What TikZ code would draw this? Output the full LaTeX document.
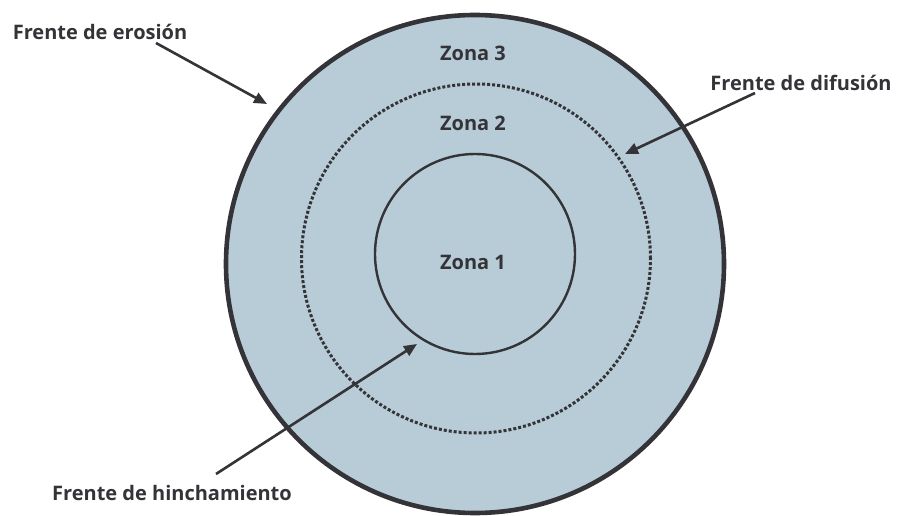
\documentclass[tikz,border=0pt]{standalone}
\usepackage{fontspec}
\setmainfont{Open Sans}
\usetikzlibrary{arrows.meta}
\definecolor{zonefill}{HTML}{B8CCD7}
\definecolor{ink}{HTML}{333338}
\begin{document}
\begin{tikzpicture}[x=1pt,y=-1pt,
  every node/.style={font=\bfseries\fontsize{20}{24}\selectfont, text=ink},
  front/.style={circle, draw=ink, inner sep=0pt},
  zonelabel/.style={inner sep=0pt},
  pointer/.style={draw=ink, line width=2.6pt, -{Triangle[length=13pt,width=11pt]}}]
  \useasboundingbox (0,0) rectangle (898,516);
  % erosion front (outer boundary) with its fill
  \node[front, fill=zonefill, line width=4.6pt, minimum size=498pt] (outer) at (475,264) {};
  % diffusion front, dotted
  \node[front, line width=3pt, dash pattern=on 3pt off 2pt, minimum size=349pt] (diff) at (476,258.5) {};
  % swelling front
  \node[front, line width=2.4pt, minimum size=200pt] (inner) at (475,254) {};
  % zone labels
  \node[zonelabel] (z3) at (473,53) {Zona 3};
  \node[zonelabel] (z2) at (473,123) {Zona 2};
  \node[zonelabel] (z1) at (473,262) {Zona 1};
  % front labels
  \node[zonelabel] (lero) at (100,32) {Frente de erosión};
  \node[zonelabel] (ldif) at (801,83) {Frente de difusión};
  \node[zonelabel] (lhin) at (172,493) {Frente de hinchamiento};
  % pointer ends
  \coordinate (eroA) at (156,43);
  \coordinate (eroB) at (267,104);
  \coordinate (difA) at (755,93);
  \coordinate (difB) at (625,154);
  \coordinate (hinA) at (216,474);
  \coordinate (hinB) at (417,344);
  \draw[pointer] (eroA) -- (eroB);
  \draw[pointer] (difA) -- (difB);
  \draw[pointer] (hinA) -- (hinB);
\end{tikzpicture}
\end{document}
